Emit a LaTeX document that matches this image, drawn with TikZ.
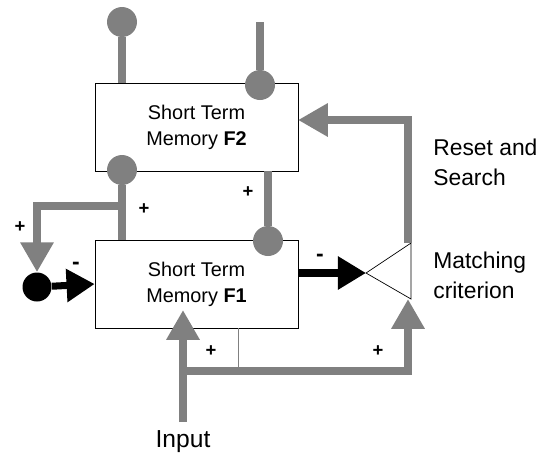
\documentclass[tikz,border=0pt]{standalone}
\usepackage{fontspec}
\setmainfont{Liberation Sans}
\usetikzlibrary{arrows.meta}
\tikzset{
  stm/.style      = {draw, thin, align=center, minimum width=4.06cm,
                     minimum height=1.76cm, inner sep=0pt,
                     font=\fontsize{11.3}{14.7}\selectfont},
  dot/.style      = {circle, fill=black!50, minimum size=0.6cm, inner sep=0pt},
  blackdot/.style = {circle, fill=black, minimum size=0.58cm, inner sep=0pt},
  feed/.style     = {draw=black!50, line width=4.5pt},
  feedarrow/.style= {feed, -{Triangle[length=17pt, width=18pt]}},
  inhib/.style    = {draw=black, line width=4pt,
                     -{Triangle[length=16pt, width=18pt]}},
  sign/.style     = {font=\fontsize{10.5}{10.5}\selectfont\bfseries, inner sep=0pt},
  note/.style     = {align=left, anchor=west, inner sep=0pt,
                     font=\fontsize{13}{17}\selectfont}
}

\begin{document}
\begin{tikzpicture}[x=0.02cm, y=-0.02cm]
\useasboundingbox (0,0) rectangle (543,457);
% Memory layers
\node[stm] (f2) at (196.5,127) {Short Term\\Memory \textbf{F2}};
\node[stm] (f1) at (196.5,284) {Short Term\\Memory \textbf{F1}};
% Matching criterion
\draw[thin] (366,273) coordinate (apex) -- (411,243) coordinate (mtop)
  -- (411,299) coordinate (mbot) -- cycle;
\node[note] (match) at (433,275) {Matching\\criterion};
\node[note] (reset) at (433,162) {Reset and\\Search};
% Top of F2
\node[dot] (c2a) at (122,22) {};
\draw[feed] (c2a) -- (c2a |- f2.north);
\coordinate (tr) at (260,22);
\node[dot] (c2b) at (260,85) {};
\draw[feed] (tr) -- (c2b);
% F2 down to F1
\node[dot] (c2c) at (122,170) {};
\draw[feed] (c2c) -- (c2c |- f1.north);
\node[dot] (c1) at (268,241) {};
\draw[feed] (c1 |- f2.south) -- (c1);
% Gain control
\node[blackdot] (bk) at (37,287) {};
\coordinate (br) at (122,206);
\draw[feedarrow] (br) -| (bk.north);
\draw[inhib] (bk) -- (f1.west);
% F1 to matching, reset back to F2
\draw[inhib] (f1.east |- apex) -- (apex);
\coordinate (rs) at (408,243);
\coordinate (rt) at (298,120);
\draw[feedarrow] (rs) |- (rt);
% Input
\node[font=\fontsize{14}{14}\selectfont, inner sep=0pt] (inlbl) at (183,442) {Input};
\coordinate (inp) at (183,422);
\coordinate (in1) at (183,310);
\draw[feedarrow] (inp) -- (in1);
\coordinate (ib) at (183,371);
\coordinate (mb) at (408,299);
\draw[feedarrow] (ib) -| (mb);
\draw[black!50, thin] (238,328) -- (238,371);
% Signs
\node[sign] at (20,227) {+};
\node[sign] at (144,209) {+};
\node[sign] at (248,192) {+};
\node[sign] at (211,351) {+};
\node[sign] at (378,351) {+};
\node[sign, font=\fontsize{13}{13}\selectfont\bfseries] at (76,266) {-};
\node[sign, font=\fontsize{13}{13}\selectfont\bfseries] at (320,258) {-};
\end{tikzpicture}
\end{document}
